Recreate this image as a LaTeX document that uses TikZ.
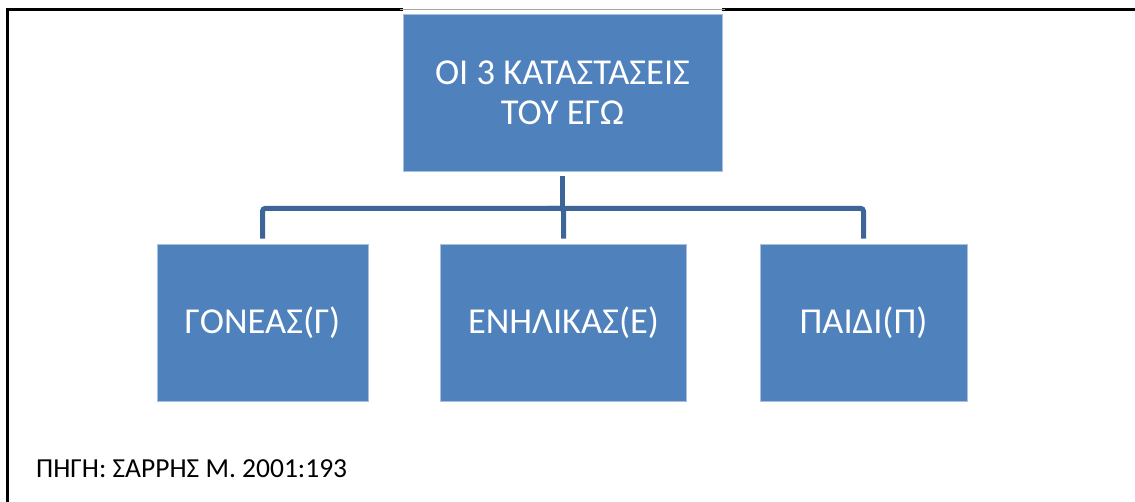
\documentclass[tikz,border=0pt]{standalone}
\usepackage{fontspec}
\setmainfont{Carlito}
\definecolor{boxblue}{RGB}{79,129,189}
\definecolor{boxedge}{RGB}{168,192,222}
\definecolor{connblue}{RGB}{61,101,152}
\begin{document}
\begin{tikzpicture}[x=1pt,y=-1pt,
  box/.style={rectangle, fill=boxblue, draw=boxedge, line width=0.6pt, inner sep=0pt,
    minimum height=157pt, text=white, align=center},
  conn/.style={draw=connblue, line width=5pt, rounded corners=3pt},
  frameline/.style={draw=black, line width=3pt}]
\useasboundingbox (0,0) rectangle (1135,501);
\fill[white] (0,0) rectangle (1135,501);
% frame
\draw[frameline] (7,510) -- (7,9) -- (403,9);
\draw[frameline] (722,9) -- (1140,9);
\draw[draw=black!35, line width=0.8pt] (400,9) -- (725,9);
% nodes
\node[box, minimum width=319pt, font=\fontsize{36.5}{40}\selectfont] (top) at (562.5,92.5) {ΟΙ 3 ΚΑΤΑΣΤΑΣΕΙΣ\\ΤΟΥ ΕΓΩ};
\node[box, minimum width=211pt, font=\fontsize{36.5}{40}\selectfont] (c1) at (262.5,322.5) {ΓΟΝΕΑΣ(Γ)};
\node[box, minimum width=246pt, font=\fontsize{36.5}{40}\selectfont] (c2) at (563.5,322.5) {ΕΝΗΛΙΚΑΣ(Ε)};
\node[box, minimum width=207pt, font=\fontsize{36.5}{40}\selectfont] (c3) at (863.5,322.5) {ΠΑΙΔΙ(Π)};
\node[anchor=base west, inner sep=0pt, font=\fontsize{27.5}{32}\selectfont] (src) at (36,477) {ΠΗΓΗ: ΣΑΡΡΗΣ Μ. 2001:193};
% connectors
\coordinate (bus) at ([yshift=-37pt]top.south);
\draw[conn, shorten <=5pt] (top.south) -- (bus);
\draw[conn, shorten >=5pt] (bus) -| (c1.north);
\draw[conn, shorten >=5pt] (bus) -| (c3.north);
\draw[conn, shorten >=5pt] (bus) -| (c2.north);
\end{tikzpicture}
\end{document}
